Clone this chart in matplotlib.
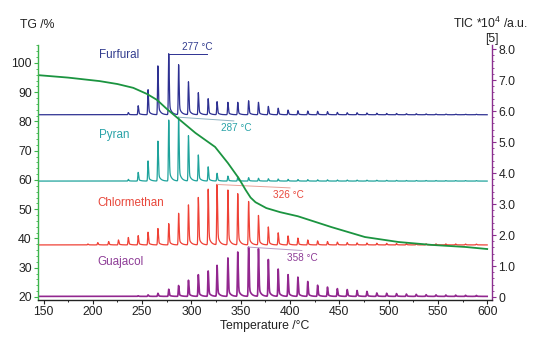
import numpy as np
import matplotlib.pyplot as plt
from matplotlib.ticker import MultipleLocator, FuncFormatter

plt.rcParams['font.family'] = ['Liberation Sans', 'DejaVu Sans']

# TG mass loss curve (left axis)
tg_temp = [146, 175, 207, 225, 241, 255, 265, 275, 287, 304, 324, 337, 348,
           355, 360, 365, 376, 390, 408, 442, 476, 510, 544, 578, 600]
tg_mass = [95.8, 95.0, 93.8, 92.8, 91.5, 89.4, 87.4, 84.3, 80.9, 76.1, 71.3,
           65.8, 60.6, 56.6, 54.0, 52.4, 50.4, 49.0, 47.6, 43.9, 40.5, 38.8,
           37.8, 37.1, 36.4]

# injection temperatures of the MS pulses (right axis traces)
peak_temp = [195, 205, 216, 226, 236, 246, 256, 266, 277, 287,
             297, 307, 317, 326, 337, 347, 358, 368, 378, 388,
             398, 408, 418, 428, 438, 448, 458, 468, 478, 488,
             498, 508, 518, 528, 538, 548, 558, 568, 578, 589]

furfural = [0, 0, 0, 0, 0.07, 0.29, 0.81, 1.58, 1.97, 1.61,
            1.06, 0.71, 0.52, 0.42, 0.40, 0.40, 0.45, 0.40, 0.27, 0.21,
            0.15, 0.13, 0.12, 0.11, 0.10, 0.075, 0.065, 0.065, 0.055, 0.05,
            0.042, 0.04, 0.032, 0.032, 0.026, 0.022, 0.02, 0.018, 0.016, 0.015]
pyran = [0, 0, 0, 0, 0.055, 0.28, 0.65, 1.29, 1.97, 2.06,
         1.46, 0.84, 0.46, 0.25, 0.16, 0.14, 0.11, 0.09, 0.075, 0.065,
         0.055, 0.05, 0.045, 0.04, 0.038, 0.035, 0.032, 0.03, 0.028, 0.026,
         0.024, 0.022, 0.02, 0.02, 0.018, 0.018, 0.016, 0.015, 0.015, 0.014]
chlormethan = [0.03, 0.075, 0.11, 0.16, 0.24, 0.30, 0.41, 0.53, 0.69, 1.02,
               1.29, 1.53, 1.80, 1.95, 1.77, 1.65, 1.40, 0.95, 0.58, 0.39,
               0.29, 0.22, 0.16, 0.13, 0.11, 0.09, 0.075, 0.065, 0.06, 0.055,
               0.05, 0.045, 0.042, 0.04, 0.036, 0.034, 0.032, 0.03, 0.028, 0.026]
guajacol = [0, 0, 0, 0, 0, 0.02, 0.05, 0.10, 0.23, 0.35,
            0.52, 0.70, 0.82, 1.0, 1.24, 1.43, 1.59, 1.54, 1.19, 0.88,
            0.70, 0.62, 0.48, 0.36, 0.30, 0.25, 0.22, 0.19, 0.16, 0.11,
            0.10, 0.09, 0.075, 0.065, 0.055, 0.05, 0.045, 0.04, 0.035, 0.03]

names = ['Furfural', 'Pyran', 'Chlormethan', 'Guajacol']
baselines = [5.88, 3.74, 1.68, 0.02]
max_temps = [277, 287, 326, 358]

line_colors = ['#2e3192', '#1fa39c', '#ef4136', '#92278f']
text_colors = ['#333d8f', '#2aa3a8', '#e8483c', '#8e3d97']
leader_colors = ['#2e3192', '#8fb3c2', '#e8a098', '#b79cc4']
name_pos = [(206, 7.81), (206, 5.23), (205, 3.03), (205, 1.13)]
# leader end (temp, drop) and note anchor (temp, value, va)
leader_end = [(316, 0.0), (343, 0.12), (400, 0.11), (412, 0.11)]
note_pos = [(290, 7.91, 'bottom'), (330, 5.61, 'top'),
            (383, 3.45, 'top'), (397, 1.42, 'top')]

temp = np.linspace(146, 600, 9000)


def ms_trace(base, heights):
    # sharp rise, short exponential tail after each pulse
    y = np.full_like(temp, base)
    for tp, h in zip(peak_temp, heights):
        d = temp - tp
        dp = np.clip(d, 0, None)
        shape = np.where(d < 0, np.exp(-0.5 * (d / 0.35) ** 2),
                         0.8 * np.exp(-0.5 * (dp / 0.5) ** 2)
                         + 0.2 * np.exp(-dp / 2.2))
        y += h * shape
    return y


fig = plt.figure(figsize=(5.33, 3.38), dpi=100)
ax = fig.add_axes([0.0713, 0.1124, 0.8518, 0.7545])
ax2 = ax.twinx()

series = [furfural, pyran, chlormethan, guajacol]
for i, heights in enumerate(series):
    lw = 1.2 if names[i] == 'Guajacol' else 0.9
    ax2.plot(temp, ms_trace(baselines[i], heights), color=line_colors[i], lw=lw)
    ax2.text(name_pos[i][0], name_pos[i][1], names[i], color=text_colors[i],
             fontsize=8.4, ha='left', va='center')
    # note at the strongest pulse
    k = peak_temp.index(max_temps[i])
    top = baselines[i] + heights[k]
    ex, drop = leader_end[i]
    ax2.plot([max_temps[i], ex], [top, top - drop], color=leader_colors[i], lw=0.7)
    nx, ny, va = note_pos[i]
    ax2.text(nx, ny, '%d °C' % max_temps[i], color=text_colors[i],
             fontsize=7.2, ha='left', va=va)

ax.plot(tg_temp, tg_mass, color='#1b9440', lw=1.3)

# TG on top of the MS traces
ax.set_zorder(ax2.get_zorder() + 1)
ax.patch.set_visible(False)

ax.set_xlim(144.4, 604.9)
ax.set_ylim(18.97, 106.15)
ax2.set_ylim(-0.097, 8.13)

ax.xaxis.set_major_locator(MultipleLocator(50))
ax.xaxis.set_minor_locator(MultipleLocator(25))
ax.yaxis.set_minor_locator(MultipleLocator(2))
ax.set_yticks(np.arange(20, 101, 10))
ax2.yaxis.set_major_locator(MultipleLocator(1))
ax2.yaxis.set_minor_locator(MultipleLocator(0.2))
ax2.yaxis.set_major_formatter(FuncFormatter(lambda v, p: '0' if abs(v) < 1e-9 else '%.1f' % v))

green = '#3cb44b'
purple = '#8b2f8f'
for s in ['top', 'right']:
    ax.spines[s].set_visible(False)
for s in ['top', 'left', 'bottom']:
    ax2.spines[s].set_visible(False)
ax.spines['left'].set_color(green)
ax.spines['bottom'].set_color('#222222')
ax2.spines['right'].set_color(purple)
for s in [ax.spines['left'], ax.spines['bottom'], ax2.spines['right']]:
    s.set_linewidth(1.0)

ax.tick_params(axis='y', which='major', colors=green, labelcolor='#222222',
               length=3, width=0.8, labelsize=8.8, pad=1.5)
ax.tick_params(axis='y', which='minor', colors=green, length=1.5, width=0.6)
ax.tick_params(axis='x', which='major', length=3, width=0.8, labelsize=8.8, pad=1.5,
               colors='#222222')
ax.tick_params(axis='x', which='minor', length=1.5, width=0.6)
ax2.tick_params(axis='y', which='major', colors=purple, labelcolor='#222222',
                length=3, width=0.8, labelsize=8.8, pad=1.5)
ax2.tick_params(axis='y', which='minor', colors=purple, length=1.5, width=0.6)

ax.set_xlabel('Temperature /°C', fontsize=8.8, labelpad=1, color='#222222')
fig.text(20 / 533, 1 - 25 / 338, 'TG /%', fontsize=8.8, ha='left', va='center',
         color='#222222')
fig.text(490 / 533, 1 - 23 / 338, 'TIC *10$\\mathregular{^4}$ /a.u.', fontsize=8.8,
         ha='center', va='center', color='#222222')
fig.text(492 / 533, 1 - 39 / 338, '[5]', fontsize=8.8, ha='center', va='center',
         color='#222222')

fig.savefig('out.png', dpi=100)
